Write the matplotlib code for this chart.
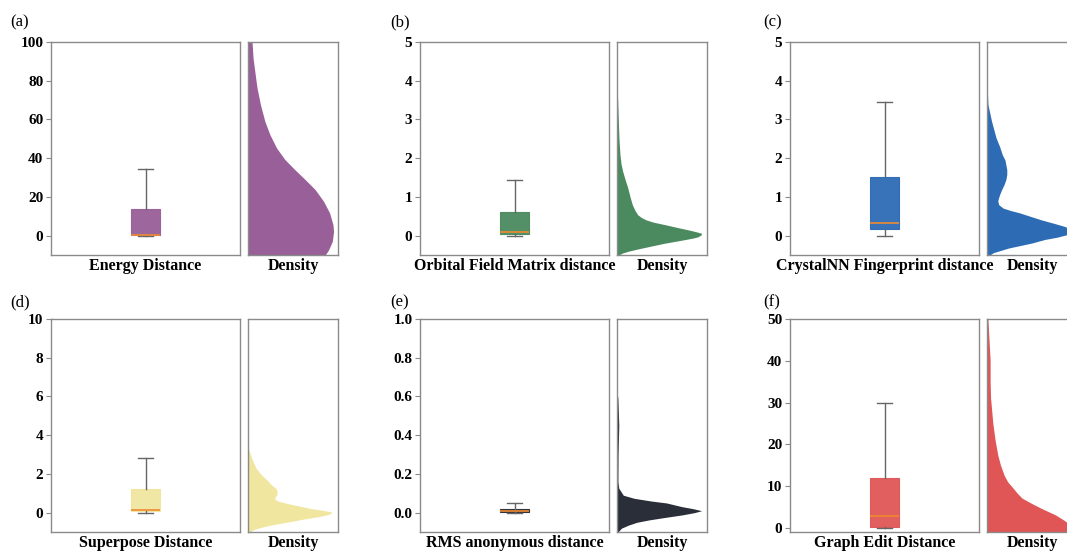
import matplotlib

matplotlib.use("Agg")
import matplotlib.pyplot as plt

plt.rcParams["font.family"] = ["Liberation Serif", "DejaVu Serif"]

# panel titles / labels
panel_tags = ["(a)", "(b)", "(c)", "(d)", "(e)", "(f)"]
metric_names = ["Energy Distance", "Orbital Field Matrix distance", "CrystalNN Fingerprint distance",
                "Superpose Distance", "RMS anonymous distance", "Graph Edit Distance"]
colors = ["#985F99", "#4B8A5F", "#2D6BB5", "#F0E6A0", "#2A2E38", "#E05656"]

# box statistics: low whisker, q1, median, q3, high whisker
whislo = [0.0, 0.0, 0.0, 0.0, 0.0, 0.0]
q1 = [0.1, 0.04, 0.17, 0.07, 0.002, 0.15]
medians = [0.3, 0.10, 0.32, 0.14, 0.010, 2.9]
q3 = [13.8, 0.60, 1.52, 1.21, 0.019, 11.9]
whishi = [34.5, 1.44, 3.45, 2.84, 0.049, 29.9]

# y-axis ranges and ticks
ylims = [(-10, 100), (-0.5, 5), (-0.5, 5), (-1, 10), (-0.1, 1.0), (-1, 50)]
yticks = [[0, 20, 40, 60, 80, 100], [0, 1, 2, 3, 4, 5], [0, 1, 2, 3, 4, 5],
          [0, 2, 4, 6, 8, 10], [0.0, 0.2, 0.4, 0.6, 0.8, 1.0], [0, 10, 20, 30, 40, 50]]
ytick_fmt = ["{:.0f}", "{:.0f}", "{:.0f}", "{:.0f}", "{:.1f}", "{:.0f}"]

# density profiles (relative density)
energy_y = [100, 91.9, 85.0, 76.4, 67.7, 59.1, 52.2, 45.3, 39.3, 34.1, 29.0, 23.8, 17.7, 11.7, 5.7, 2.2, -2.9, -7.3, -10]
energy_d = [0.045, 0.056, 0.075, 0.10, 0.138, 0.187, 0.243, 0.317, 0.41, 0.52, 0.634, 0.746, 0.84, 0.907, 0.944, 0.951,
            0.937, 0.896, 0.858]

ofm_y = [3.8, 3.64, 2.96, 2.5, 2.09, 1.85, 1.66, 1.45, 1.23, 1.0, 0.80, 0.65, 0.54, 0.47, 0.41, 0.35, 0.28, 0.20, 0.15,
         0.10, 0.06, 0.02, -0.03, -0.06, -0.1, -0.15, -0.2, -0.28, -0.34, -0.40, -0.45, -0.5]
ofm_d = [0.0, 0.005, 0.015, 0.022, 0.033, 0.045, 0.063, 0.09, 0.12, 0.145, 0.17, 0.2, 0.23, 0.27, 0.32, 0.40, 0.54, 0.69,
         0.79, 0.88, 0.94, 0.935, 0.9, 0.85, 0.76, 0.64, 0.52, 0.36, 0.24, 0.13, 0.06, 0.02]

cnn_y = [3.9, 3.82, 3.39, 2.96, 2.53, 2.3, 2.09, 1.95, 1.83, 1.7, 1.58, 1.45, 1.32, 1.2, 1.06, 0.95, 0.89, 0.8, 0.71,
         0.65, 0.59, 0.50, 0.41, 0.32, 0.24, 0.17, 0.12, 0.07, 0.02, -0.04, -0.1, -0.19, -0.32, -0.44, -0.5]
cnn_d = [0.0, 0.003, 0.01, 0.05, 0.10, 0.14, 0.17, 0.20, 0.21, 0.22, 0.22, 0.21, 0.19, 0.165, 0.14, 0.125, 0.12, 0.13,
         0.18, 0.26, 0.36, 0.48, 0.60, 0.74, 0.86, 0.93, 0.955, 0.94, 0.88, 0.78, 0.64, 0.50, 0.24, 0.07, 0.03]

sup_y = [3.4, 3.32, 2.81, 2.29, 2.0, 1.77, 1.6, 1.43, 1.3, 1.17, 1.04, 0.91, 0.8, 0.69, 0.6, 0.48, 0.35, 0.22, 0.12,
         0.04, -0.05, -0.12, -0.21, -0.33, -0.47, -0.6, -0.73, -0.86, -1.0]
sup_d = [0.0, 0.005, 0.04, 0.09, 0.14, 0.19, 0.23, 0.26, 0.30, 0.32, 0.325, 0.32, 0.30, 0.30, 0.33, 0.43, 0.56, 0.69,
         0.83, 0.93, 0.92, 0.87, 0.78, 0.62, 0.46, 0.30, 0.17, 0.07, 0.02]

rms_y = [0.62, 0.59, 0.45, 0.30, 0.16, 0.126, 0.09, 0.074, 0.06, 0.05, 0.04, 0.031, 0.02, 0.01, 0.0, -0.012, -0.025,
         -0.038, -0.05, -0.064, -0.08, -0.09, -0.1]
rms_d = [0.0, 0.01, 0.02, 0.012, 0.01, 0.02, 0.07, 0.19, 0.38, 0.55, 0.64, 0.72, 0.85, 0.94, 0.86, 0.72, 0.53, 0.35,
         0.22, 0.13, 0.05, 0.03, 0.01]

ged_y = [50, 46, 40, 35, 31, 28.6, 25, 21, 17.4, 15, 12.6, 11, 9.5, 8.2, 7.1, 5.8, 4.7, 3.1, 1.9, 1.0, 0.0, -1]
ged_d = [0.01, 0.02, 0.035, 0.035, 0.04, 0.05, 0.065, 0.09, 0.12, 0.15, 0.19, 0.23, 0.29, 0.34, 0.39, 0.50, 0.60, 0.76,
         0.85, 0.91, 0.95, 0.93]

density_y = [energy_y, ofm_y, cnn_y, sup_y, rms_y, ged_y]
density_d = [energy_d, ofm_d, cnn_d, sup_d, rms_d, ged_d]

W, H = 1067, 551
SPINE = "#8a8a8a"
col_left = [51, 420, 790]
row_top = [42, 319]
BOX_W, GAP, DEN_W, AX_H = 189, 8, 90, 213
tag_x = [10, 390, 763]
tag_y = [22, 302]

fig = plt.figure(figsize=(W / 100, H / 100), dpi=100)
fig.patch.set_facecolor("white")


def frac(x, y, w, h):
    return [x / W, 1 - (y + h) / H, w / W, h / H]


for i in range(6):
    r, c = divmod(i, 3)
    x0, y0 = col_left[c], row_top[r]
    ax = fig.add_axes(frac(x0, y0, BOX_W, AX_H))
    axd = fig.add_axes(frac(x0 + BOX_W + GAP, y0, DEN_W, AX_H))

    stats = [{"whislo": whislo[i], "q1": q1[i], "med": medians[i], "q3": q3[i],
              "whishi": whishi[i], "fliers": []}]
    ax.bxp(stats, positions=[1], widths=0.15, patch_artist=True, showfliers=False,
           boxprops=dict(facecolor=colors[i], edgecolor=colors[i], linewidth=0.8, alpha=0.95),
           medianprops=dict(color="#F08A30", linewidth=1.2),
           whiskerprops=dict(color="#666666", linewidth=1.0),
           capprops=dict(color="#666666", linewidth=1.0))
    ax.set_xlim(0.5, 1.5)
    ax.set_ylim(*ylims[i])
    ax.set_yticks(yticks[i])
    ax.set_yticklabels([ytick_fmt[i].format(t) for t in yticks[i]], fontsize=11, fontweight="bold")
    ax.set_xticks([])
    ax.tick_params(axis="y", colors=SPINE, labelcolor="black", length=3.5, width=0.8, pad=2)
    ax.set_xlabel(metric_names[i], fontsize=11.5, fontweight="bold", labelpad=2)

    axd.fill_betweenx(density_y[i], 0, density_d[i], color=colors[i], linewidth=0)
    axd.set_xlim(0, 1)
    axd.set_ylim(*ylims[i])
    axd.set_xticks([])
    axd.set_yticks([])
    axd.set_xlabel("Density", fontsize=11.5, fontweight="bold", labelpad=2)

    for a in (ax, axd):
        for s in a.spines.values():
            s.set_color(SPINE)
            s.set_linewidth(1.0)

    fig.text(tag_x[c] / W, 1 - tag_y[r] / H, panel_tags[i], fontsize=12, va="center", ha="left")

fig.savefig("out.png", dpi=100, facecolor="white")
